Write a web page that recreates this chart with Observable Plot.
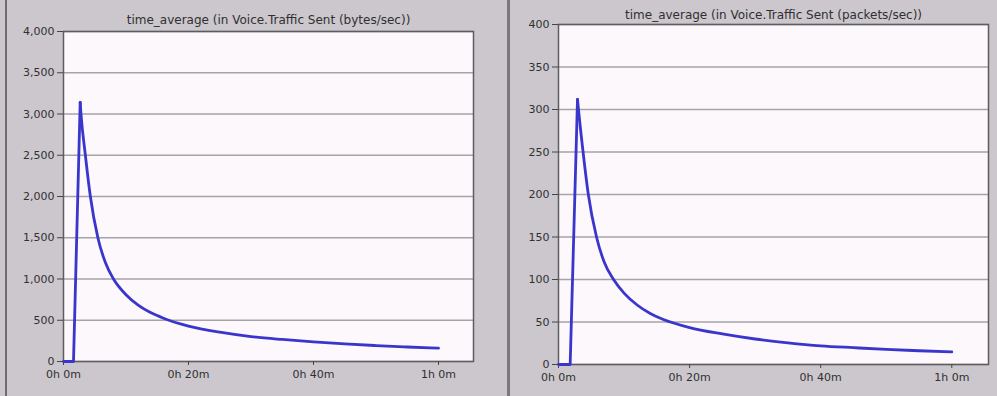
<!DOCTYPE html>
<html>
<head>
<meta charset="utf-8">
<script src="https://cdn.jsdelivr.net/npm/d3@7"></script>
<script src="https://cdn.jsdelivr.net/npm/@observablehq/plot@0.6"></script>
<style>
  html, body { margin: 0; padding: 0; }
  body { width: 997px; height: 396px; background: #cbc7cd; position: relative; overflow: hidden; }
  .panel { position: absolute; top: 0; height: 396px; }
  .rule { position: absolute; top: 0; height: 396px; background: #6e6b72; }
</style>
</head>
<body>
<div class="rule" style="left:5px;width:2px;"></div>
<div class="rule" style="left:507px;width:3px;background:#7a777e;"></div>
<div id="left" class="panel" style="left:0px;width:507px;"></div>
<div id="right" class="panel" style="left:507px;width:490px;"></div>
<script>
// ---- data ----
const xTicks = [0, 20, 40, 60];
const xTickLabels = ["0h 0m", "0h 20m", "0h 40m", "1h 0m"];

const bytesTitle = "time_average (in Voice.Traffic Sent (bytes/sec))";
const bytesTicks = [0, 500, 1000, 1500, 2000, 2500, 3000, 3500, 4000];
const bytesMinutes = [0, 1.6, 2.67, 2.8, 3.5, 4.3, 5.5, 6.7, 8, 10, 12, 14, 16, 20, 25, 30, 35, 40, 45, 50, 55, 60];
const bytesValues  = [0, 0, 3140, 3000, 2500, 2000, 1500, 1200, 1000, 810, 680, 590, 525, 430, 355, 302, 267, 238, 213, 193, 176, 161];

const packetsTitle = "time_average (in Voice.Traffic Sent (packets/sec))";
const packetsTicks = [0, 50, 100, 150, 200, 250, 300, 350, 400];
const packetsMinutes = [0, 1.78, 2.9, 3.05, 3.75, 4.55, 5.8, 7, 8.4, 10, 12, 14, 16, 20, 25, 30, 35, 40, 45, 50, 55, 60];
const packetsValues  = [0, 0, 312, 300, 250, 200, 150, 120, 100, 84, 70, 60, 53, 43.5, 36, 30, 25.5, 22, 19.8, 17.8, 16.2, 14.8];

function makeChart({title, minutes, values, yTicks, yMax, width, height, margins, titleDy}) {
  const data = minutes.map((t, i) => ({t, v: values[i]}));
  let peak = 0;
  values.forEach((v, i) => { if (v > values[peak]) peak = i; });
  const rise = data.slice(0, peak + 1);
  const decay = data.slice(peak);
  return Plot.plot({
    width, height,
    marginLeft: margins[0], marginRight: margins[1], marginTop: margins[2], marginBottom: margins[3],
    style: {background: "transparent", fontFamily: "'DejaVu Sans', sans-serif", fontSize: "11px", color: "#303030", overflow: "visible"},
    x: {domain: [0, 65.6]},
    y: {domain: [0, yMax]},
    marks: [
      Plot.frame({fill: "#fcf8fc", stroke: null}),
      Plot.gridY(yTicks, {stroke: "#a6a4a8", strokeOpacity: 1, strokeWidth: 1.5}),
      Plot.frame({stroke: "#5e5c62", strokeWidth: 1.5}),
      Plot.axisX(xTicks, {tickFormat: (d, i) => xTickLabels[i], tickSize: 4, tickPadding: 5, label: null, stroke: "#444"}),
      Plot.axisY(yTicks, {tickFormat: d3.format(","), tickSize: 6, tickPadding: 3, label: null, stroke: "#444"}),
      Plot.line(rise, {x: "t", y: "v", stroke: "#3a36cc", strokeWidth: 2.8, curve: "linear"}),
      Plot.line(decay, {x: "t", y: "v", stroke: "#3a36cc", strokeWidth: 2.8, curve: "monotone-x"}),
      Plot.text([title], {frameAnchor: "top", lineAnchor: "middle", dy: titleDy, fontSize: 12, fill: "#303030"})
    ]
  });
}

document.getElementById("left").append(makeChart({
  title: bytesTitle, minutes: bytesMinutes, values: bytesValues, yTicks: bytesTicks, yMax: 4000,
  width: 507, height: 396, margins: [63, 34, 31, 35], titleDy: -11
}));
document.getElementById("right").append(makeChart({
  title: packetsTitle, minutes: packetsMinutes, values: packetsValues, yTicks: packetsTicks, yMax: 400,
  width: 490, height: 396, margins: [51, 9, 24, 32], titleDy: -9
}));
</script>
</body>
</html>
